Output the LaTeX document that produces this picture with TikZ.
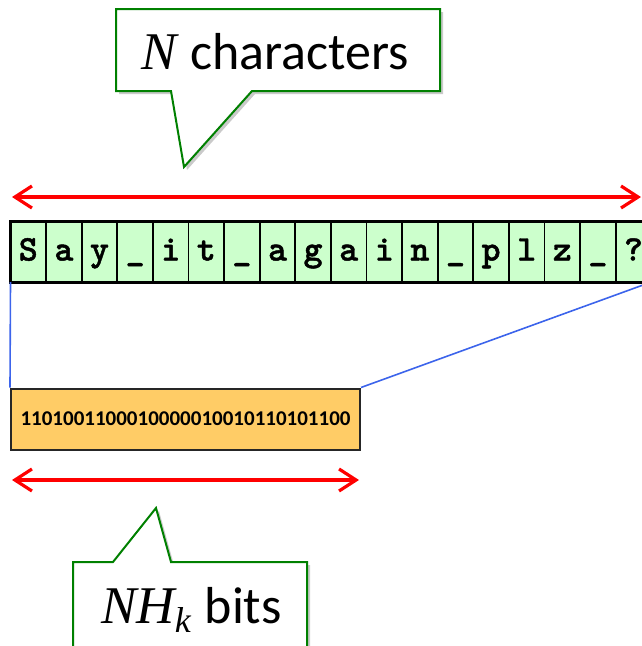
\documentclass[tikz,border=0pt]{standalone}
\usepackage{fontspec}
\setmainfont{Carlito}
\newfontfamily\serifit{Liberation Serif}[UprightFont=* Italic]
\newfontfamily\cellfont{lmmonolt10-bold.otf}[FakeBold=1.3]
\usetikzlibrary{arrows.meta,shadows}
\definecolor{cellgreen}{RGB}{204,255,204}
\definecolor{bitorange}{RGB}{255,204,102}
\definecolor{calloutgreen}{RGB}{0,128,0}
\definecolor{linkblue}{RGB}{60,100,235}
\tikzset{
  cellbox/.style={draw=black, line width=1.8pt, fill=cellgreen,
    minimum width=35.6pt, minimum height=61pt, inner sep=0pt, outer sep=0pt,
    font=\cellfont\fontsize{36}{36}\selectfont,
    text height=21pt, text depth=3pt},
  bitbox/.style={draw=black!85, line width=2pt, fill=bitorange,
    minimum width=349pt, minimum height=61pt, inner sep=0pt,
    font=\bfseries\fontsize{21}{21}\selectfont},
  span/.style={draw=red, line width=3.2pt,
    {Straight Barb[length=17pt,width=22pt]}-{Straight Barb[length=17pt,width=22pt]}},
  link/.style={draw=linkblue, line width=1.6pt},
  callout/.style={draw=calloutgreen, line width=2pt, fill=white,
    drop shadow={shadow xshift=3pt, shadow yshift=-3pt, opacity=0.35, fill=black!60}},
  callouttext/.style={inner sep=0pt, anchor=base west, font=\fontsize{52}{52}\selectfont}
}
\newcommand\symN[1]{{\serifit\fontsize{53}{53}\selectfont #1}}
\begin{document}
\begin{tikzpicture}[x=1pt, y=-1pt]
  \useasboundingbox (0,0) rectangle (642,646);
  \clip (0,0) rectangle (642,646);

  % upper callout
  \path[callout] (116,9) -- (440,9) -- (440,91) -- (252,91) -- (184,167)
    -- (171,91) -- (116,91) -- cycle;
  \node[callouttext] (ntext) at (141,69)
    {\symN{N}\hspace{14pt}characters};

  % span of the character string
  \coordinate (topL) at (12,197);
  \coordinate (topR) at (641,197);
  \draw[span] (topL) -- (topR);

  % character cells
  \foreach \ch [count=\i] in {S,a,y,\_,i,t,\_,a,g,a,i,n,\_,p,l,z,\_,?} {
    \node[cellbox] (c\i) at ({10.5+35.6*(\i-0.5)},251.5) {\ch};
  }
  \draw[line width=3pt] (c1.north west) rectangle (c18.south east);

  % compressed bits
  \node[bitbox] (bits) at (185.5,419) {1101001100010000010010110101100};

  \draw[link] (c1.south west) -- (bits.north west);
  \draw[link] (c18.south east) -- (bits.north east);

  % span of the bits
  \coordinate (botL) at (12,480);
  \coordinate (botR) at (359,480);
  \draw[span] (botL) -- (botR);

  % lower callout
  \path[callout] (73,562) -- (113,562) -- (156,508) -- (171,562) -- (307,562)
    -- (307,649) -- (73,649) -- cycle;
  \node[callouttext] (hsym) at (101,623)
    {\symN{NH}\raisebox{-9pt}{\serifit\fontsize{36}{36}\selectfont k}};
  \node[callouttext, anchor=base east] (hbits) at (282,623) {bits};
\end{tikzpicture}
\end{document}
